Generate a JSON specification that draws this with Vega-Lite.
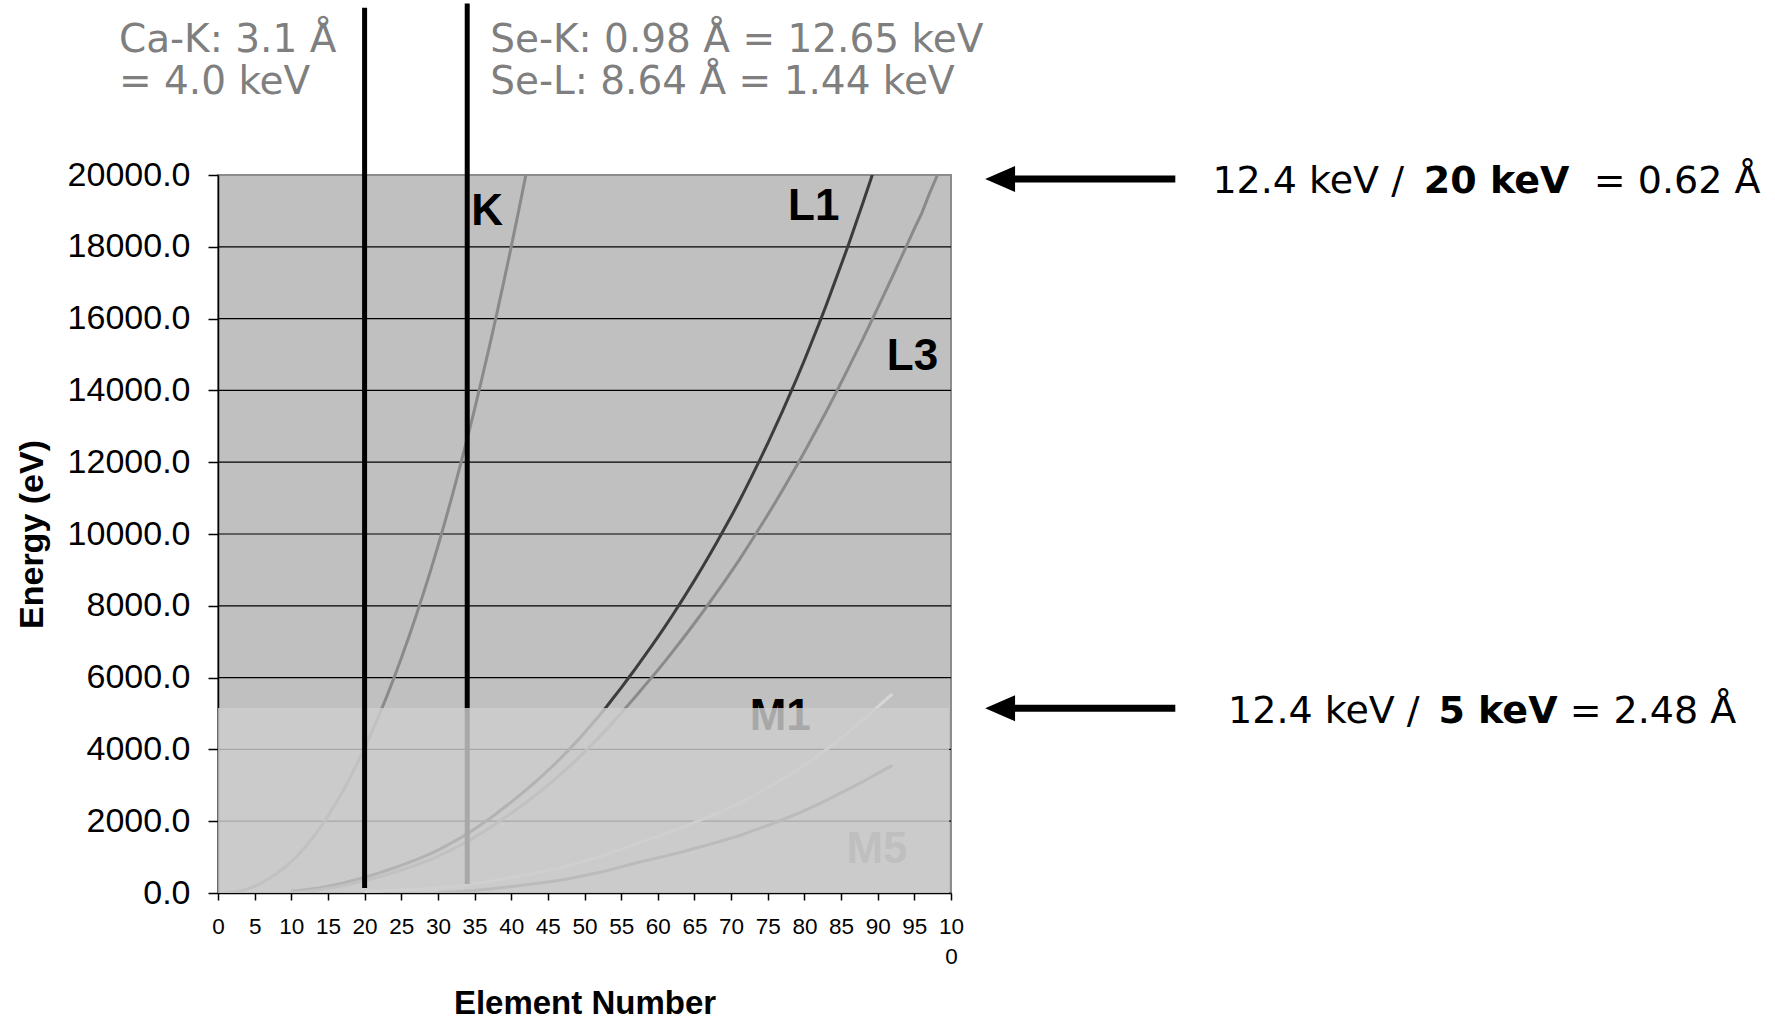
{
  "$schema": "https://vega.github.io/schema/vega-lite/v6.json",
  "width": 733,
  "height": 718,
  "autosize": {"type": "none"},
  "padding": {"left": 218, "top": 175, "right": 824, "bottom": 128},
  "background": "#ffffff",
  "config": {
    "view": {"fill": "#c0c0c0", "stroke": "#8c8c8c", "strokeWidth": 2},
    "axis": {"labelFont": "Liberation Sans", "titleFont": "Liberation Sans", "zindex": 1, "domainColor": "#000000", "tickColor": "#000000", "labelColor": "#000000", "titleColor": "#000000", "grid": false}
  },
  "datasets": {
    "edges": [
      {"z": 1, "K": 13.6},
      {"z": 2, "K": 24.6},
      {"z": 3, "K": 54.7},
      {"z": 4, "K": 111.5},
      {"z": 5, "K": 188},
      {"z": 6, "K": 284.2},
      {"z": 7, "K": 409.9},
      {"z": 8, "K": 543.1},
      {"z": 9, "K": 696.7},
      {"z": 10, "K": 870.2, "L1": 48.5, "L3": 21.6},
      {"z": 11, "K": 1070.8, "L1": 63.5, "L3": 30.8},
      {"z": 12, "K": 1303, "L1": 88.7, "L3": 49.5},
      {"z": 13, "K": 1559, "L1": 117.8, "L3": 72.6},
      {"z": 14, "K": 1839, "L1": 149.7, "L3": 99.4},
      {"z": 15, "K": 2145.5, "L1": 189, "L3": 135},
      {"z": 16, "K": 2472, "L1": 230.9, "L3": 162.5},
      {"z": 17, "K": 2822.4, "L1": 270, "L3": 200},
      {"z": 18, "K": 3205.9, "L1": 326.3, "L3": 248.4},
      {"z": 19, "K": 3608.4, "L1": 378.6, "L3": 294.6},
      {"z": 20, "K": 4038.5, "L1": 438.4, "L3": 346.2, "M1": 44.3},
      {"z": 21, "K": 4492, "L1": 498, "L3": 398.7, "M1": 51.1},
      {"z": 22, "K": 4966, "L1": 560.9, "L3": 453.8, "M1": 58.7},
      {"z": 23, "K": 5465, "L1": 626.7, "L3": 512.1, "M1": 66.3},
      {"z": 24, "K": 5989, "L1": 696, "L3": 574.1, "M1": 74.1},
      {"z": 25, "K": 6539, "L1": 769.1, "L3": 638.7, "M1": 82.3},
      {"z": 26, "K": 7112, "L1": 844.6, "L3": 706.8, "M1": 91.3},
      {"z": 27, "K": 7709, "L1": 925.1, "L3": 778.1, "M1": 101},
      {"z": 28, "K": 8333, "L1": 1008.6, "L3": 852.7, "M1": 110.8},
      {"z": 29, "K": 8979, "L1": 1096.7, "L3": 932.7, "M1": 122.5},
      {"z": 30, "K": 9659, "L1": 1196.2, "L3": 1021.8, "M1": 139.8, "M5": 10.1},
      {"z": 31, "K": 10367, "L1": 1299, "L3": 1116.4, "M1": 159.5, "M5": 18.7},
      {"z": 32, "K": 11103, "L1": 1414.6, "L3": 1217, "M1": 180.1, "M5": 29.2},
      {"z": 33, "K": 11867, "L1": 1527, "L3": 1323.6, "M1": 204.7, "M5": 41.7},
      {"z": 34, "K": 12658, "L1": 1652, "L3": 1433.9, "M1": 229.6, "M5": 54.6},
      {"z": 35, "K": 13474, "L1": 1782, "L3": 1550, "M1": 257, "M5": 69},
      {"z": 36, "K": 14326, "L1": 1921, "L3": 1678.4, "M1": 292.8, "M5": 93.8},
      {"z": 37, "K": 15200, "L1": 2065, "L3": 1804, "M1": 326.7, "M5": 112},
      {"z": 38, "K": 16105, "L1": 2216, "L3": 1940, "M1": 358.7, "M5": 134.2},
      {"z": 39, "K": 17038, "L1": 2373, "L3": 2080, "M1": 392, "M5": 155.8},
      {"z": 40, "K": 17998, "L1": 2532, "L3": 2223, "M1": 430.3, "M5": 178.8},
      {"z": 41, "K": 18986, "L1": 2698, "L3": 2371, "M1": 466.6, "M5": 202.3},
      {"z": 42, "K": 20000, "L1": 2866, "L3": 2520, "M1": 506.3, "M5": 227.9},
      {"z": 43, "L1": 3043, "L3": 2677, "M1": 544, "M5": 253.9},
      {"z": 44, "L1": 3224, "L3": 2838, "M1": 586.1, "M5": 279.9},
      {"z": 45, "L1": 3412, "L3": 3004, "M1": 628.1, "M5": 307.2},
      {"z": 46, "L1": 3604, "L3": 3173, "M1": 671.6, "M5": 335.2},
      {"z": 47, "L1": 3806, "L3": 3351, "M1": 719, "M5": 368.3},
      {"z": 48, "L1": 4018, "L3": 3538, "M1": 772, "M5": 405.2},
      {"z": 49, "L1": 4238, "L3": 3730, "M1": 827.2, "M5": 443.9},
      {"z": 50, "L1": 4465, "L3": 3929, "M1": 884.7, "M5": 484.9},
      {"z": 51, "L1": 4698, "L3": 4132, "M1": 946, "M5": 528.2},
      {"z": 52, "L1": 4939, "L3": 4341, "M1": 1006, "M5": 573},
      {"z": 53, "L1": 5188, "L3": 4557, "M1": 1072, "M5": 619.3},
      {"z": 54, "L1": 5453, "L3": 4786, "M1": 1148.7, "M5": 672.3},
      {"z": 55, "L1": 5714, "L3": 5012, "M1": 1211, "M5": 726.6},
      {"z": 56, "L1": 5989, "L3": 5247, "M1": 1293, "M5": 780.5},
      {"z": 57, "L1": 6266, "L3": 5483, "M1": 1362, "M5": 836},
      {"z": 58, "L1": 6549, "L3": 5723, "M1": 1436, "M5": 883.8},
      {"z": 59, "L1": 6835, "L3": 5964, "M1": 1511, "M5": 928.8},
      {"z": 60, "L1": 7126, "L3": 6208, "M1": 1575, "M5": 980.4},
      {"z": 61, "L1": 7428, "L3": 6459, "M1": 1650, "M5": 1027},
      {"z": 62, "L1": 7737, "L3": 6716, "M1": 1723, "M5": 1080.2},
      {"z": 63, "L1": 8052, "L3": 6977, "M1": 1800, "M5": 1126},
      {"z": 64, "L1": 8376, "L3": 7243, "M1": 1881, "M5": 1185.2},
      {"z": 65, "L1": 8708, "L3": 7514, "M1": 1968, "M5": 1241.1},
      {"z": 66, "L1": 9046, "L3": 7790, "M1": 2047, "M5": 1295.6},
      {"z": 67, "L1": 9394, "L3": 8071, "M1": 2128, "M5": 1351.4},
      {"z": 68, "L1": 9751, "L3": 8358, "M1": 2207, "M5": 1409.3},
      {"z": 69, "L1": 10116, "L3": 8648, "M1": 2307, "M5": 1467.7},
      {"z": 70, "L1": 10486, "L3": 8944, "M1": 2398, "M5": 1527.8},
      {"z": 71, "L1": 10870, "L3": 9244, "M1": 2491, "M5": 1588.5},
      {"z": 72, "L1": 11271, "L3": 9561, "M1": 2601, "M5": 1661.7},
      {"z": 73, "L1": 11682, "L3": 9881, "M1": 2708, "M5": 1735.1},
      {"z": 74, "L1": 12100, "L3": 10207, "M1": 2820, "M5": 1809.2},
      {"z": 75, "L1": 12527, "L3": 10535, "M1": 2932, "M5": 1883},
      {"z": 76, "L1": 12968, "L3": 10871, "M1": 3049, "M5": 1960.1},
      {"z": 77, "L1": 13419, "L3": 11215, "M1": 3174, "M5": 2040.4},
      {"z": 78, "L1": 13880, "L3": 11564, "M1": 3296, "M5": 2122.2},
      {"z": 79, "L1": 14353, "L3": 11919, "M1": 3425, "M5": 2205.7},
      {"z": 80, "L1": 14839, "L3": 12284, "M1": 3562, "M5": 2294.9},
      {"z": 81, "L1": 15347, "L3": 12658, "M1": 3704, "M5": 2389.3},
      {"z": 82, "L1": 15861, "L3": 13035, "M1": 3851, "M5": 2484},
      {"z": 83, "L1": 16388, "L3": 13419, "M1": 3999, "M5": 2579.6},
      {"z": 84, "L1": 16939, "L3": 13814, "M1": 4149, "M5": 2683},
      {"z": 85, "L1": 17493, "L3": 14214, "M1": 4317, "M5": 2787},
      {"z": 86, "L1": 18049, "L3": 14619, "M1": 4482, "M5": 2892},
      {"z": 87, "L1": 18639, "L3": 15031, "M1": 4652, "M5": 3000},
      {"z": 88, "L1": 19237, "L3": 15444, "M1": 4822, "M5": 3105},
      {"z": 89, "L1": 19840, "L3": 15871, "M1": 5002, "M5": 3219},
      {"z": 90, "L1": 20472, "L3": 16300, "M1": 5182, "M5": 3332},
      {"z": 91, "L3": 16733, "M1": 5367, "M5": 3442},
      {"z": 92, "L3": 17166, "M1": 5548, "M5": 3552},
      {"z": 93, "L3": 17610},
      {"z": 94, "L3": 18057},
      {"z": 95, "L3": 18504},
      {"z": 96, "L3": 18930},
      {"z": 97, "L3": 19452},
      {"z": 98, "L3": 19930},
      {"z": 99, "L3": 20410}
    ],
    "grid": [
      {"z": 0, "z1": 100, "e": 2000},
      {"z": 0, "z1": 100, "e": 4000},
      {"z": 0, "z1": 100, "e": 6000},
      {"z": 0, "z1": 100, "e": 8000},
      {"z": 0, "z1": 100, "e": 10000},
      {"z": 0, "z1": 100, "e": 12000},
      {"z": 0, "z1": 100, "e": 14000},
      {"z": 0, "z1": 100, "e": 16000},
      {"z": 0, "z1": 100, "e": 18000}
    ]
  },
  "encoding": {
    "x": {
      "field": "z", "type": "quantitative",
      "scale": {"domain": [0, 100], "nice": false, "zero": false},
      "axis": {
        "values": [0, 5, 10, 15, 20, 25, 30, 35, 40, 45, 50, 55, 60, 65, 70, 75, 80, 85, 90, 95, 100],
        "labelExpr": "datum.value == 100 ? ['10', '0'] : datum.label",
        "labelFontSize": 22.5, "labelLineHeight": 30, "labelPadding": 15, "tickSize": 7,
        "labelOverlap": false, "labelFlush": false,
        "domainWidth": 1.5, "tickWidth": 1.5,
        "title": "Element Number", "titleFontSize": 33, "titleFontWeight": "bold",
        "titleX": 366.5, "titleY": 110, "titleAlign": "center", "titleBaseline": "middle"
      }
    },
    "y": {
      "field": "e", "type": "quantitative",
      "scale": {"domain": [0, 20000], "nice": false},
      "axis": {
        "values": [0, 2000, 4000, 6000, 8000, 10000, 12000, 14000, 16000, 18000, 20000],
        "format": ".1f", "labelFontSize": 34, "labelPadding": 18, "tickSize": 10,
        "labelOverlap": false, "labelFlush": false,
        "domainWidth": 1.5, "tickWidth": 1.5,
        "title": "Energy (eV)", "titleFontSize": 34, "titleFontWeight": "bold",
        "titleX": -186, "titleY": 359, "titleAngle": 270, "titleAlign": "center", "titleBaseline": "middle"
      }
    }
  },
  "layer": [
    {
      "data": {"name": "grid"},
      "mark": {"type": "rule", "color": "#000000", "strokeWidth": 1.2},
      "encoding": {"x2": {"field": "z1"}}
    },
    {
      "data": {"name": "edges"},
      "transform": [{"fold": ["K", "L1", "L3", "M1", "M5"], "as": ["edge", "e"]}],
      "mark": {"type": "line", "strokeWidth": 3, "clip": true},
      "encoding": {
        "color": {"field": "edge", "type": "nominal", "legend": null,
          "scale": {"domain": ["K", "L1", "L3", "M1", "M5"], "range": ["#8a8a8a", "#3c3c3c", "#8a8a8a", "#d6d6d6", "#6a6a6a"]}},
        "detail": {"field": "edge"}
      }
    },
    {
      "data": {"values": [{"z": 34.56, "e": 18620, "t": "K"}]},
      "mark": {"type": "text", "align": "left", "baseline": "alphabetic", "font": "Liberation Sans", "fontWeight": "bold", "fontSize": 44, "color": "#000000"},
      "encoding": {"text": {"field": "t"}}
    },
    {
      "data": {"values": [{"z": 81.28, "e": 18757, "t": "L1"}, {"z": 94.75, "e": 14557, "t": "L3"}, {"z": 76.7, "e": 4543, "t": "M1"}]},
      "mark": {"type": "text", "align": "center", "baseline": "alphabetic", "font": "Liberation Sans", "fontWeight": "bold", "fontSize": 44, "color": "#000000"},
      "encoding": {"text": {"field": "t"}}
    },
    {
      "data": {"values": [{"z": 89.9, "e": 827, "t": "M5"}]},
      "mark": {"type": "text", "align": "center", "baseline": "alphabetic", "font": "Liberation Sans", "fontWeight": "bold", "fontSize": 44, "color": "#808080"},
      "encoding": {"text": {"field": "t"}}
    },
    {
      "data": {"values": [{"z": 34, "e": 250, "e1": 24780}]},
      "mark": {"type": "rule", "color": "#000000", "strokeWidth": 5},
      "encoding": {"y2": {"field": "e1"}}
    },
    {
      "data": {"values": [{"z": 0, "z1": 99.75, "e": 0, "e1": 5150}]},
      "mark": {"type": "rect", "color": "#cdcdcd", "opacity": 0.82},
      "encoding": {"x2": {"field": "z1"}, "y2": {"field": "e1"}}
    },
    {
      "data": {"values": [{"z": 20, "e": 140, "e1": 24660}]},
      "mark": {"type": "rule", "color": "#000000", "strokeWidth": 5},
      "encoding": {"y2": {"field": "e1"}}
    },
    {
      "data": {"values": [
        {"z": -13.52, "e": 23439, "t": "Ca-K: 3.1 Å"},
        {"z": -13.52, "e": 22268, "t": "= 4.0 keV"},
        {"z": 37.13, "e": 23439, "t": "Se-K: 0.98 Å = 12.65 keV"},
        {"z": 37.13, "e": 22268, "t": "Se-L: 8.64 Å = 1.44 keV"}
      ]},
      "mark": {"type": "text", "align": "left", "baseline": "alphabetic", "font": "DejaVu Sans", "fontSize": 39, "color": "#7f7f7f"},
      "encoding": {"text": {"field": "t"}}
    },
    {
      "data": {"values": [{"z": 107, "z1": 130.6, "e": 19891}, {"z": 107, "z1": 130.6, "e": 5148}]},
      "mark": {"type": "rule", "color": "#000000", "strokeWidth": 7},
      "encoding": {"x2": {"field": "z1"}}
    },
    {
      "data": {"values": [{"z": 106.7, "e": 19891}, {"z": 106.7, "e": 5148}]},
      "mark": {"type": "point", "shape": "M -1.15 0 L 1.15 -1 L 1.15 1 Z", "size": 676, "filled": true, "color": "#000000", "opacity": 1}
    },
    {
      "data": {"values": [
        {"z": 135.66, "e": 19500, "t": "12.4 keV /"},
        {"z": 187.7, "e": 19500, "t": "= 0.62 Å"},
        {"z": 137.8, "e": 4729, "t": "12.4 keV /"},
        {"z": 184.4, "e": 4729, "t": "= 2.48 Å"}
      ]},
      "mark": {"type": "text", "align": "left", "baseline": "alphabetic", "font": "DejaVu Sans", "fontSize": 38, "color": "#000000"},
      "encoding": {"text": {"field": "t"}}
    },
    {
      "data": {"values": [
        {"z": 164.5, "e": 19500, "t": "20 keV"},
        {"z": 166.5, "e": 4729, "t": "5 keV"}
      ]},
      "mark": {"type": "text", "align": "left", "baseline": "alphabetic", "font": "DejaVu Sans", "fontWeight": "bold", "fontSize": 38, "color": "#000000"},
      "encoding": {"text": {"field": "t"}}
    }
  ]
}
